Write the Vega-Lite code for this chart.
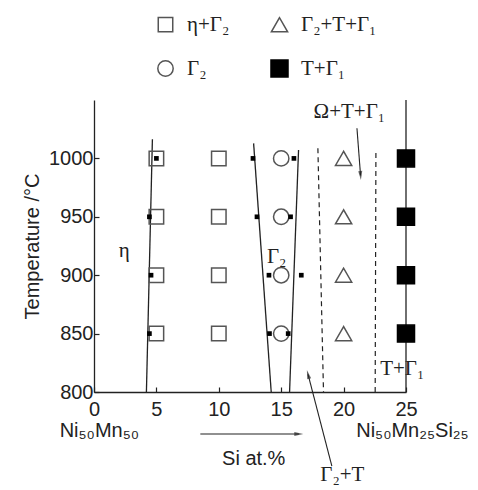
{
  "$schema": "https://vega.github.io/schema/vega-lite/v6.json",
  "width": 312,
  "height": 292,
  "autosize": {"type": "none"},
  "padding": {"left": 94, "top": 100, "right": 72, "bottom": 98},
  "background": "white",
  "config": {
    "view": {"stroke": null},
    "axis": {
      "domainColor": "#222", "domainWidth": 1.3,
      "tickColor": "#222", "tickWidth": 1.2, "tickSize": -5,
      "grid": false,
      "labelFont": "Liberation Sans", "labelFontSize": 20, "labelColor": "#222",
      "labelFlush": false, "labelOverlap": false,
      "titleFont": "Liberation Sans", "titleFontSize": 20, "titleFontWeight": "normal", "titleColor": "#222"
    },
    "legend": {
      "labelFont": "Liberation Serif", "labelFontSize": 21, "labelColor": "#222",
      "labelOffset": 11, "rowPadding": 21, "columnPadding": 37,
      "symbolStrokeWidth": 1.5, "padding": 0
    }
  },
  "datasets": {
    "pts": [
      {"x": 5, "T": 1000, "phase": "η+Γ₂"}, {"x": 5, "T": 950, "phase": "η+Γ₂"},
      {"x": 5, "T": 900, "phase": "η+Γ₂"}, {"x": 5, "T": 850, "phase": "η+Γ₂"},
      {"x": 10, "T": 1000, "phase": "η+Γ₂"}, {"x": 10, "T": 950, "phase": "η+Γ₂"},
      {"x": 10, "T": 900, "phase": "η+Γ₂"}, {"x": 10, "T": 850, "phase": "η+Γ₂"},
      {"x": 15, "T": 1000, "phase": "Γ₂"}, {"x": 15, "T": 950, "phase": "Γ₂"},
      {"x": 15, "T": 900, "phase": "Γ₂"}, {"x": 15, "T": 850, "phase": "Γ₂"},
      {"x": 20, "T": 1000, "phase": "Γ₂+T+Γ₁"}, {"x": 20, "T": 950, "phase": "Γ₂+T+Γ₁"},
      {"x": 20, "T": 900, "phase": "Γ₂+T+Γ₁"}, {"x": 20, "T": 850, "phase": "Γ₂+T+Γ₁"},
      {"x": 25, "T": 1000, "phase": "T+Γ₁"}, {"x": 25, "T": 950, "phase": "T+Γ₁"},
      {"x": 25, "T": 900, "phase": "T+Γ₁"}, {"x": 25, "T": 850, "phase": "T+Γ₁"}
    ],
    "dots": [
      {"x": 5.0, "T": 1000}, {"x": 12.74, "T": 1000}, {"x": 16.02, "T": 1000},
      {"x": 4.44, "T": 950}, {"x": 13.06, "T": 950}, {"x": 15.75, "T": 950},
      {"x": 4.57, "T": 900}, {"x": 14.02, "T": 900}, {"x": 16.61, "T": 900},
      {"x": 4.44, "T": 850}, {"x": 14.06, "T": 850}, {"x": 15.56, "T": 850}
    ],
    "solid": [
      {"id": "L1", "x": 4.68, "T": 1016.4}, {"id": "L1", "x": 4.2, "T": 800},
      {"id": "L2", "x": 12.79, "T": 1012.9}, {"id": "L2", "x": 14.2, "T": 800},
      {"id": "L3", "x": 16.39, "T": 1007.2}, {"id": "L3", "x": 15.67, "T": 800},
      {"id": "L4", "x": 25, "T": 1050}, {"id": "L4", "x": 25, "T": 800}
    ],
    "dashed": [
      {"id": "D1", "x": 17.94, "T": 1008.6}, {"id": "D1", "x": 18.39, "T": 800},
      {"id": "D2", "x": 22.59, "T": 1007.8}, {"id": "D2", "x": 22.53, "T": 800}
    ],
    "arrows": [
      {"id": "A1", "x": 21.07, "T": 1025.8}, {"id": "A1", "x": 21.36, "T": 985.4},
      {"id": "A2", "x": 19.06, "T": 736.6}, {"id": "A2", "x": 17.15, "T": 815.1},
      {"id": "A3", "x": 8.52, "T": 764.0}, {"id": "A3", "x": 16.41, "T": 764.0}
    ],
    "heads": [
      {"id": "A1", "x": 21.36, "T": 985.4},
      {"id": "A2", "x": 17.15, "T": 815.1},
      {"id": "A3", "x": 16.41, "T": 764.0}
    ],
    "serif": [
      {"label": "Ω+T+Γ₁", "x": 17.59, "T": 1034.3},
      {"label": "T+Γ₁", "x": 22.93, "T": 814.6},
      {"label": "η", "x": 1.98, "T": 915.8},
      {"label": "Γ₂", "x": 13.86, "T": 910.7},
      {"label": "Γ₂+T", "x": 18.13, "T": 723.8}
    ],
    "sans": [
      {"label": "Ni₅₀Mn₅₀", "x": -2.75, "T": 761.7},
      {"label": "Ni₅₀Mn₂₅Si₂₅", "x": 21.01, "T": 761.7},
      {"label": "Si at.%", "x": 10.26, "T": 737.5}
    ]
  },
  "encoding": {
    "x": {
      "field": "x", "type": "quantitative",
      "scale": {"domain": [0, 25], "nice": false, "zero": false},
      "axis": {"values": [0, 5, 10, 15, 20, 25], "title": null, "labelPadding": 12}
    },
    "y": {
      "field": "T", "type": "quantitative",
      "scale": {"domain": [800, 1050], "nice": false, "zero": false},
      "axis": {"values": [800, 850, 900, 950, 1000], "format": "d", "title": "Temperature /°C", "labelPadding": 6, "titlePadding": 6}
    }
  },
  "layer": [
    {
      "data": {"name": "solid"},
      "mark": {"type": "line", "color": "#222", "strokeWidth": 1.3},
      "encoding": {"detail": {"field": "id"}}
    },
    {
      "data": {"name": "dashed"},
      "mark": {"type": "line", "color": "#222", "strokeWidth": 1.2, "strokeDash": [5, 4]},
      "encoding": {"detail": {"field": "id"}}
    },
    {
      "data": {"name": "arrows"},
      "mark": {"type": "line", "color": "#222", "strokeWidth": 1.1},
      "encoding": {"detail": {"field": "id"}}
    },
    {
      "data": {"name": "heads"},
      "transform": [{"filter": "datum.id === 'A1'"}],
      "mark": {"type": "point", "filled": true, "color": "#222", "shape": "M0,-1L-0.45,1L0.45,1Z", "size": 80, "angle": 176}
    },
    {
      "data": {"name": "heads"},
      "transform": [{"filter": "datum.id === 'A2'"}],
      "mark": {"type": "point", "filled": true, "color": "#222", "shape": "M0,-1L-0.45,1L0.45,1Z", "size": 80, "angle": 345}
    },
    {
      "data": {"name": "heads"},
      "transform": [{"filter": "datum.id === 'A3'"}],
      "mark": {"type": "point", "filled": true, "color": "#222", "shape": "M0,-1L-0.45,1L0.45,1Z", "size": 80, "angle": 90}
    },
    {
      "data": {"name": "pts"},
      "mark": {"type": "point", "strokeWidth": 1.5, "opacity": 1},
      "encoding": {
        "shape": {
          "field": "phase", "type": "nominal",
          "scale": {"domain": ["η+Γ₂", "Γ₂", "Γ₂+T+Γ₁", "T+Γ₁"], "range": ["square", "circle", "triangle-up", "square"]},
          "legend": {"title": null, "orient": "none", "legendX": 61, "legendY": -86, "columns": 2}
        },
        "fill": {
          "field": "phase", "type": "nominal",
          "scale": {"domain": ["η+Γ₂", "Γ₂", "Γ₂+T+Γ₁", "T+Γ₁"], "range": ["transparent", "transparent", "transparent", "black"]},
          "legend": {"title": null, "orient": "none", "legendX": 61, "legendY": -86, "columns": 2}
        },
        "stroke": {
          "field": "phase", "type": "nominal",
          "scale": {"domain": ["η+Γ₂", "Γ₂", "Γ₂+T+Γ₁", "T+Γ₁"], "range": ["#555", "#555", "#555", "black"]},
          "legend": {"title": null, "orient": "none", "legendX": 61, "legendY": -86, "columns": 2}
        },
        "size": {
          "field": "phase", "type": "nominal",
          "scale": {"domain": ["η+Γ₂", "Γ₂", "Γ₂+T+Γ₁", "T+Γ₁"], "range": [210, 290, 256, 180]},
          "legend": {"title": null, "orient": "none", "legendX": 61, "legendY": -86, "columns": 2}
        }
      }
    },
    {
      "data": {"name": "dots"},
      "mark": {"type": "point", "shape": "square", "filled": true, "color": "black", "size": 22, "opacity": 1}
    },
    {
      "data": {"name": "serif"},
      "mark": {"type": "text", "align": "left", "baseline": "alphabetic", "font": "Liberation Serif", "fontSize": 21, "color": "#222"},
      "encoding": {"text": {"field": "label"}}
    },
    {
      "data": {"name": "sans"},
      "mark": {"type": "text", "align": "left", "baseline": "alphabetic", "font": "Liberation Sans", "fontSize": 20, "color": "#222"},
      "encoding": {"text": {"field": "label"}}
    }
  ]
}
